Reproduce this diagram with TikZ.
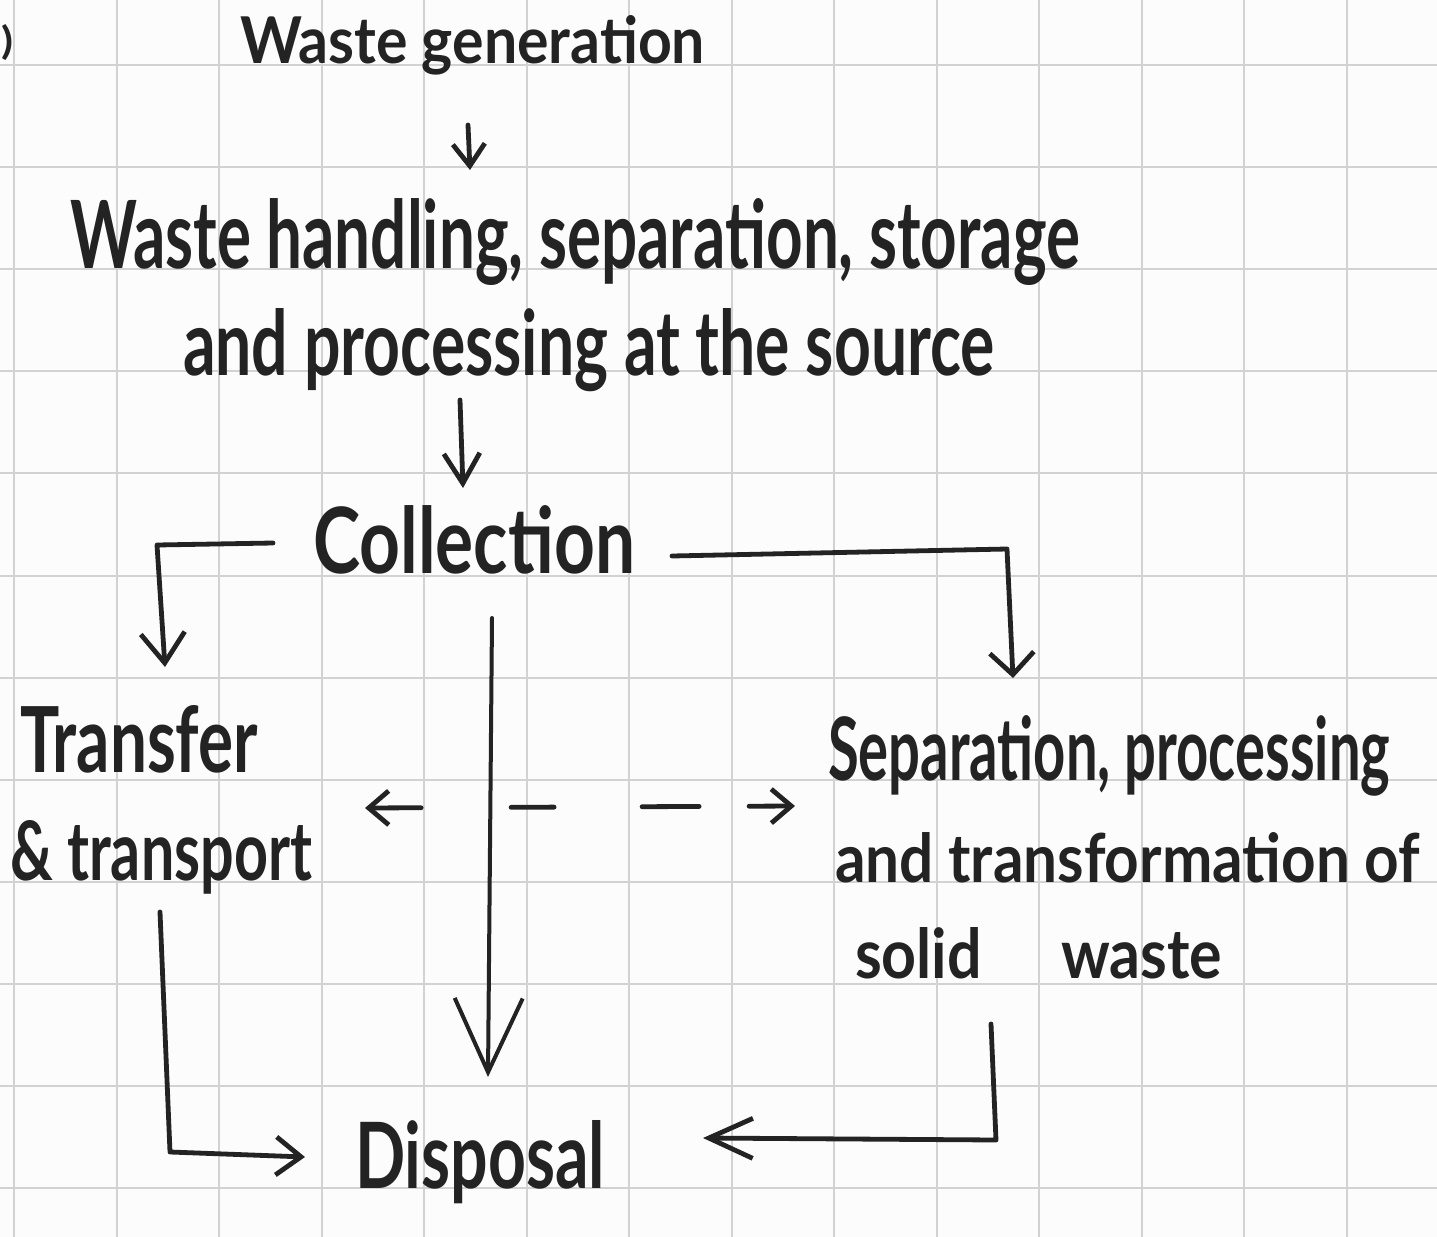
\documentclass[tikz,border=0pt]{standalone}
\usepackage{fontspec}
\setmainfont{Lato}
\usepackage{graphicx}
\usetikzlibrary{arrows.meta,calc}
\definecolor{ink}{HTML}{232323}
\definecolor{gridc}{HTML}{D2D2D2}
\definecolor{paper}{HTML}{FCFCFC}
\newcommand\hwtext[3]{\resizebox{#1}{#2}{#3}}
\begin{document}
\begin{tikzpicture}[x=0.5pt,y=-0.5pt,
  lbl/.style={anchor=base west, inner sep=0pt, outer sep=0pt, text=ink, font=\fontsize{38}{40}\selectfont\bfseries},
  conn/.style={draw=ink, line width=2.4pt, line cap=round, line join=round},
  gridline/.style={draw=gridc, line width=1pt},
  barb/.style 2 args={-{Straight Barb[length=#1,width=#2]}},
  dbarb/.style 2 args={{Straight Barb[length=#1,width=#2]}-{Straight Barb[length=#1,width=#2]}},
  handdash/.style={dash pattern=on 25pt off 45pt on 21.5pt off 44pt on 28.5pt off 25pt on 25pt}
]
\fill[paper] (0,0) rectangle (1437,1237);
\useasboundingbox (0,0) rectangle (1437,1237);
\foreach \i in {0,...,13} \draw[gridline] ({14+102.5*\i},0) -- ({14+102.5*\i},1237);
\foreach \j in {0,...,11} \draw[gridline] (0,{65+102.1*\j}) -- (1437,{65+102.1*\j});

% texts
\node[lbl] (paren) at (1,54) {\hwtext{6pt}{15pt}{)}};
\node[lbl] (gen) at (240,63) {\hwtext{232.5pt}{24pt}{Waste generation}};
\node[lbl] (handle1) at (70,268) {\hwtext{505pt}{35pt}{Waste handling, separation, storage}};
\node[lbl] (handle2) at (183,375) {\hwtext{406pt}{33.5pt}{and processing at the source}};
\node[lbl] (coll) at (313,573) {\hwtext{161pt}{34pt}{Collection}};
\node[lbl] (trans1) at (20,772) {\hwtext{119pt}{33.5pt}{Transfer}};
\node[lbl] (trans2) at (10,880) {\hwtext{151pt}{30pt}{\& transport}};
\node[lbl] (sep1) at (828,780) {\hwtext{281pt}{32.5pt}{Separation, processing}};
\node[lbl] (sep2) at (835,882) {\hwtext{292.5pt}{25pt}{and transformation of}};
\node[lbl] (sep3) at (855,978) {\hwtext{183.5pt}{25.5pt}{solid\hspace{1.3em}waste}};
\node[lbl] (disp) at (355,1188) {\hwtext{125pt}{34pt}{Disposal}};

% connectors
\draw[conn,barb={11pt}{16pt}] ($(gen.base west)+(228,62)$) -- ($(handle1.base west)+(400,-98)$);
\draw[conn,barb={15pt}{18pt}] ($(handle2.base west)+(277,25)$) -- ($(coll.base west)+(150,-85)$);
\draw[conn,barb={15pt}{22pt}] ($(coll.base west)+(-40,-30)$) -- ($(coll.base west)+(-156,-28)$) -- ($(trans1.base west)+(145,-105)$);
\draw[conn,barb={11pt}{22pt}] ($(coll.base west)+(359,-17)$) -- ($(coll.base west)+(694,-24)$) -- ($(sep1.base west)+(185,-102)$);
\draw[conn,line width=2pt,barb={37pt}{34pt}] ($(coll.base west)+(179,45)$) -- ($(disp.base west)+(133,-111)$);
\draw[conn,barb={12.5pt}{19pt}] ($(trans2.base west)+(150,32)$) -- ($(disp.base west)+(-185,-36)$) -- ($(disp.base west)+(-50,-31)$);
\draw[conn,barb={22pt}{20pt}] ($(sep3.base west)+(136,46)$) -- ($(sep3.base west)+(141,162)$) -- ($(disp.base west)+(348,-50)$);
\draw[conn,handdash,dbarb={10pt}{17pt}] ($(trans2.base west)+(355,-72)$) -- ($(sep1.base west)+(-33,26)$);
\end{tikzpicture}
\end{document}
